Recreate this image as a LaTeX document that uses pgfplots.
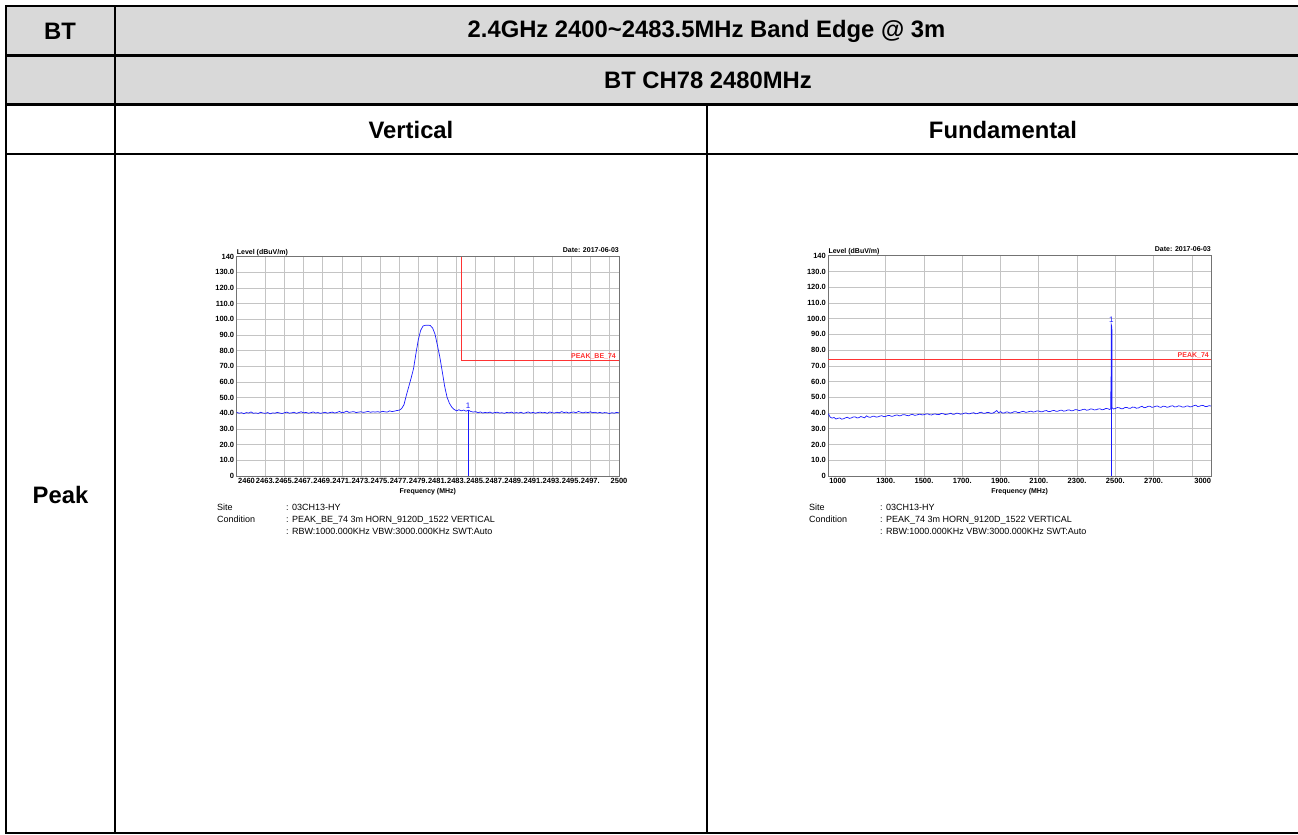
\documentclass[border=0pt]{standalone}
\usepackage{pgfplots}
\pgfplotsset{compat=1.18}
\usepackage{pgfplotstable}
\usepackage{fontspec}
\setmainfont{Liberation Sans}
\definecolor{tgray}{HTML}{D9D9D9}
\definecolor{gridc}{HTML}{C4C4C4}
\definecolor{trace}{HTML}{1A1AFF}
\definecolor{limitc}{HTML}{FF3333}

\pgfplotstableread{
x y
2460 40.6
2460.25 40.1
2460.5 40.4
2460.75 39.8
2461 40.5
2461.25 40.2
2461.5 40.9
2461.75 40.0
2462 40.3
2462.25 39.9
2462.5 40.7
2462.75 40.2
2463 40.0
2463.25 40.5
2463.5 39.7
2463.75 40.3
2464 40.1
2464.25 40.6
2464.5 40.2
2464.75 39.9
2465 40.4
2465.25 40.8
2465.5 40.1
2465.75 40.3
2466 40.7
2466.25 40.0
2466.5 40.5
2466.75 41.0
2467 40.3
2467.25 40.6
2467.5 40.1
2467.75 40.4
2468 40.9
2468.25 40.2
2468.5 40.5
2468.75 40.0
2469 40.3
2469.25 40.7
2469.5 40.1
2469.75 40.5
2470 40.8
2470.25 40.2
2470.5 40.6
2470.75 41.2
2471 40.4
2471.25 40.7
2471.5 41.4
2471.75 40.6
2472 40.9
2472.25 41.1
2472.5 40.5
2472.75 40.8
2473 41.0
2473.25 40.6
2473.5 40.9
2473.75 41.2
2474 40.7
2474.25 41.0
2474.5 40.8
2474.75 41.1
2475 40.7
2475.25 41.3
2475.5 41.0
2475.75 40.8
2476 41.6
2476.25 41.1
2476.5 41.4
2476.75 41.8
2477 42.0
2477.25 43.0
2477.5 45.5
2477.75 51.5
2478 57.0
2478.25 62.5
2478.5 68.5
2478.75 78.0
2479 87.0
2479.25 93.0
2479.5 95.8
2479.75 96.2
2480 96.3
2480.25 96.1
2480.5 94.5
2480.75 90.5
2481 83.5
2481.25 76.0
2481.5 67.0
2481.75 57.5
2482 50.5
2482.25 46.5
2482.5 44.0
2482.75 42.5
2483 41.6
2483.25 42.3
2483.5 41.6
2483.75 42.1
2484 41.4
2484.25 42.0
2484.5 41.2
2484.75 40.8
2485 41.1
2485.25 40.4
2485.5 40.9
2485.75 40.2
2486 40.6
2486.25 40.3
2486.5 40.8
2486.75 40.1
2487 40.5
2487.25 40.7
2487.5 40.2
2487.75 40.4
2488 40.0
2488.25 40.6
2488.5 40.3
2488.75 40.8
2489 40.1
2489.25 40.5
2489.5 40.2
2489.75 40.7
2490 40.0
2490.25 40.4
2490.5 40.9
2490.75 40.2
2491 40.6
2491.25 40.1
2491.5 40.5
2491.75 40.8
2492 40.3
2492.25 40.6
2492.5 40.0
2492.75 40.9
2493 40.4
2493.25 40.2
2493.5 40.7
2493.75 40.3
2494 41.1
2494.25 40.5
2494.5 40.8
2494.75 40.2
2495 40.6
2495.25 40.9
2495.5 40.4
2495.75 41.2
2496 40.7
2496.25 40.3
2496.5 40.8
2496.75 40.5
2497 41.0
2497.25 40.4
2497.5 40.7
2497.75 40.2
2498 40.6
2498.25 40.1
2498.5 40.5
2498.75 40.3
2499 39.9
2499.25 40.4
2499.5 40.1
2499.75 40.6
2500 40.3
}\traceA

\pgfplotstableread{
x y
1000 39.6
1010 37.4
1020 36.8
1030 37.2
1040 36.2
1050 36.7
1060 36.9
1070 36.1
1080 36.4
1090 37.0
1100 37.3
1110 36.6
1120 36.9
1130 37.5
1140 37.6
1150 36.9
1160 37.1
1170 37.8
1180 37.4
1190 37.0
1200 38.2
1210 37.5
1220 37.3
1230 37.9
1240 38.0
1250 37.4
1260 37.6
1270 38.1
1280 38.3
1290 37.7
1300 37.9
1310 38.4
1320 38.5
1330 37.9
1340 38.1
1350 38.6
1360 38.8
1370 38.2
1380 38.4
1390 39.0
1400 38.9
1410 38.5
1420 38.3
1430 38.9
1440 39.2
1450 38.6
1460 38.7
1470 39.1
1480 39.3
1490 38.8
1500 39.0
1510 39.4
1520 39.5
1530 38.9
1540 38.8
1550 39.3
1560 39.4
1570 39.0
1580 39.1
1590 39.7
1600 39.6
1610 39.1
1620 39.2
1630 39.5
1640 39.9
1650 39.2
1660 39.3
1670 39.9
1680 39.8
1690 39.3
1700 39.4
1710 39.9
1720 40.1
1730 39.5
1740 39.6
1750 40.0
1760 40.2
1770 39.6
1780 39.7
1790 40.3
1800 40.5
1810 39.8
1820 39.9
1830 40.4
1840 40.3
1850 39.8
1860 40.0
1870 40.6
1880 41.6
1890 40.2
1900 40.9
1910 40.0
1920 40.1
1930 40.7
1940 40.6
1950 40.0
1960 40.3
1970 40.8
1980 40.9
1990 40.3
2000 40.4
2010 40.9
2020 41.1
2030 40.5
2040 40.6
2050 41.0
2060 41.2
2070 40.7
2080 40.8
2090 41.4
2100 41.3
2110 40.8
2120 40.9
2130 41.4
2140 41.6
2150 40.9
2160 41.0
2170 41.5
2180 41.7
2190 41.1
2200 41.2
2210 41.7
2220 41.8
2230 41.2
2240 41.4
2250 41.9
2260 42.0
2270 41.4
2280 41.6
2290 42.2
2300 42.1
2310 41.6
2320 41.8
2330 42.3
2340 42.4
2350 41.8
2360 42.0
2370 42.6
2380 42.5
2390 42.0
2400 42.1
2410 42.6
2420 42.7
2430 42.1
2440 42.3
2450 42.9
2460 42.8
2470 42.3
2476 42.6
2477 63.0
2478 63.0
2479 96.0
2481 95.0
2482 94.5
2483 43.4
2490 42.6
2500 42.9
2510 43.5
2520 43.4
2530 42.8
2540 42.8
2550 43.5
2560 43.6
2570 43.0
2580 43.1
2590 43.8
2600 43.7
2610 43.1
2620 43.2
2630 43.9
2640 44.3
2650 43.4
2660 43.6
2670 44.2
2680 44.4
2690 43.7
2700 43.8
2710 44.3
2720 44.5
2730 43.8
2740 43.7
2750 44.4
2760 44.2
2770 43.7
2780 43.9
2790 44.5
2800 44.6
2810 43.9
2820 44.0
2830 44.6
2840 44.4
2850 43.8
2860 43.8
2870 44.4
2880 44.5
2890 43.9
2900 44.1
2910 44.7
2920 45.0
2930 44.2
2940 44.3
2950 44.9
2960 44.8
2970 44.1
2980 44.2
2990 44.7
3000 44.5
}\traceB

\pgfplotsset{spec/.style={
  scale only axis, anchor=north west,
  ymin=0, ymax=140,
  ytick={0,10,20,30,40,50,60,70,80,90,100,110,120,130,140},
  yticklabels={0,10.0,20.0,30.0,40.0,50.0,60.0,70.0,80.0,90.0,100.0,110.0,120.0,130.0,140},
  grid=major, major grid style={gridc, line width=0.6pt},
  major tick length=0pt,
  axis line style={draw=black!55, line width=0.6pt},
  tick label style={font=\fontsize{7.5}{8.5}\selectfont\bfseries},
  yticklabel style={xshift=1pt},
  xticklabel style={yshift=1pt},
  xlabel={Frequency (MHz)},
  xlabel style={font=\fontsize{7}{8}\selectfont\bfseries, yshift=2pt},
  clip=false,
}}

\begin{document}
\begin{tikzpicture}
\path[use as bounding box] (0pt,0pt) rectangle (1298pt,-835pt);
% table
\fill[tgray] (6pt,-6pt) rectangle (1298pt,-104.5pt);
\begin{scope}[line width=2.2pt, black, line cap=rect]
\draw (6pt,-6pt) -- (1298pt,-6pt);
\draw (6pt,-55.5pt) -- (1298pt,-55.5pt);
\draw (6pt,-104.5pt) -- (1298pt,-104.5pt);
\draw (6pt,-154pt) -- (1298pt,-154pt);
\draw (6pt,-833pt) -- (1298pt,-833pt);
\draw (6pt,-6pt) -- (6pt,-833pt);
\draw (115pt,-6pt) -- (115pt,-833pt);
\draw (707pt,-104.5pt) -- (707pt,-833pt);
\end{scope}
\begin{scope}[every node/.style={font=\fontsize{23.8}{28}\selectfont\bfseries, inner sep=0pt}]
\node at (60pt,-31pt) {BT};
\node at (706.5pt,-31pt) {2.4GHz 2400\textasciitilde2483.5MHz Band Edge @ 3m};
\node at (708pt,-80pt) {BT CH78 2480MHz};
\node at (411pt,-129.5pt) {Vertical};
\node at (1003pt,-129.5pt) {Fundamental};
\node at (60.5pt,-495pt) {Peak};
\end{scope}

% plot 1
\begin{axis}[spec, at={(236.7pt,-256.7pt)}, width=382.3pt, height=219.3pt,
  xmin=2460, xmax=2500,
  xtick={2460,2463,2465,2467,2469,2471,2473,2475,2477,2479,2481,2483,2485,2487,2489,2491,2493,2495,2497,2499,2500},
  xticklabels={\makebox[0pt][l]{\hspace{1.5pt}2460},2463.,2465.,2467.,2469.,2471.,2473.,2475.,2477.,2479.,2481.,2483.,2485.,2487.,2489.,2491.,2493.,2495.,2497.,,2500},
]
\addplot[draw=limitc, line width=1pt, line join=miter] coordinates {(2483.5,140) (2483.5,74) (2500,74)};
\addplot[draw=trace, line width=0.7pt] table {\traceA};
\addplot[draw=trace, line width=0.7pt] coordinates {(2484.2,0) (2484.2,42)};
\node[text=trace, font=\fontsize{8}{9}\selectfont, anchor=south, inner sep=1pt] at (axis cs:2484.2,42.5) {1};
\node[text=limitc, font=\fontsize{7}{8}\selectfont\bfseries, anchor=south east, inner sep=1pt] at (axis cs:2499.8,74) {PEAK\_BE\_74};
\node[font=\fontsize{7}{8}\selectfont\bfseries, anchor=base west, inner sep=0pt] at ([yshift=2pt]rel axis cs:0,1) {Level (dBuV/m)};
\node[font=\fontsize{7}{8}\selectfont\bfseries, anchor=base east, inner sep=0pt] at ([yshift=4pt]rel axis cs:1,1) {Date: 2017-06-03};
\end{axis}

% plot 2
\begin{axis}[spec, at={(828.3pt,-255.7pt)}, width=382.7pt, height=220.3pt,
  xmin=1000, xmax=3000,
  xtick={1000,1300,1500,1700,1900,2100,2300,2500,2700,2900,3000},
  xticklabels={\makebox[0pt][l]{\hspace{1pt}1000},1300.,1500.,1700.,1900.,2100.,2300.,2500.,2700.,,\makebox[0pt][r]{3000}},
]
\addplot[draw=limitc, line width=1pt] coordinates {(1000,74) (3000,74)};
\addplot[draw=trace, line width=0.7pt] table {\traceB};
\addplot[draw=trace, line width=0.8pt] coordinates {(2478,0) (2478,63)};
\node[text=trace, font=\fontsize{8}{9}\selectfont, anchor=south, inner sep=1pt] at (axis cs:2479,96.5) {1};
\node[text=limitc, font=\fontsize{7}{8}\selectfont\bfseries, anchor=south east, inner sep=1pt] at (axis cs:2995,74) {PEAK\_74};
\node[font=\fontsize{7}{8}\selectfont\bfseries, anchor=base west, inner sep=0pt] at ([yshift=2pt]rel axis cs:0,1) {Level (dBuV/m)};
\node[font=\fontsize{7}{8}\selectfont\bfseries, anchor=base east, inner sep=0pt] at ([yshift=4pt]rel axis cs:1,1) {Date: 2017-06-03};
\end{axis}

% info text
\begin{scope}[every node/.style={font=\fontsize{9}{10}\selectfont, anchor=base west, inner sep=0pt}]
\node at (217pt,-510pt) {Site};
\node at (217pt,-522pt) {Condition};
\node at (286pt,-510pt) {: 03CH13-HY};
\node at (286pt,-522pt) {: PEAK\_BE\_74 3m HORN\_9120D\_1522 VERTICAL};
\node at (286pt,-534pt) {: RBW:1000.000KHz VBW:3000.000KHz SWT:Auto};
\node at (809pt,-510pt) {Site};
\node at (809pt,-522pt) {Condition};
\node at (880pt,-510pt) {: 03CH13-HY};
\node at (880pt,-522pt) {: PEAK\_74 3m HORN\_9120D\_1522 VERTICAL};
\node at (880pt,-534pt) {: RBW:1000.000KHz VBW:3000.000KHz SWT:Auto};
\end{scope}
\end{tikzpicture}
\end{document}
